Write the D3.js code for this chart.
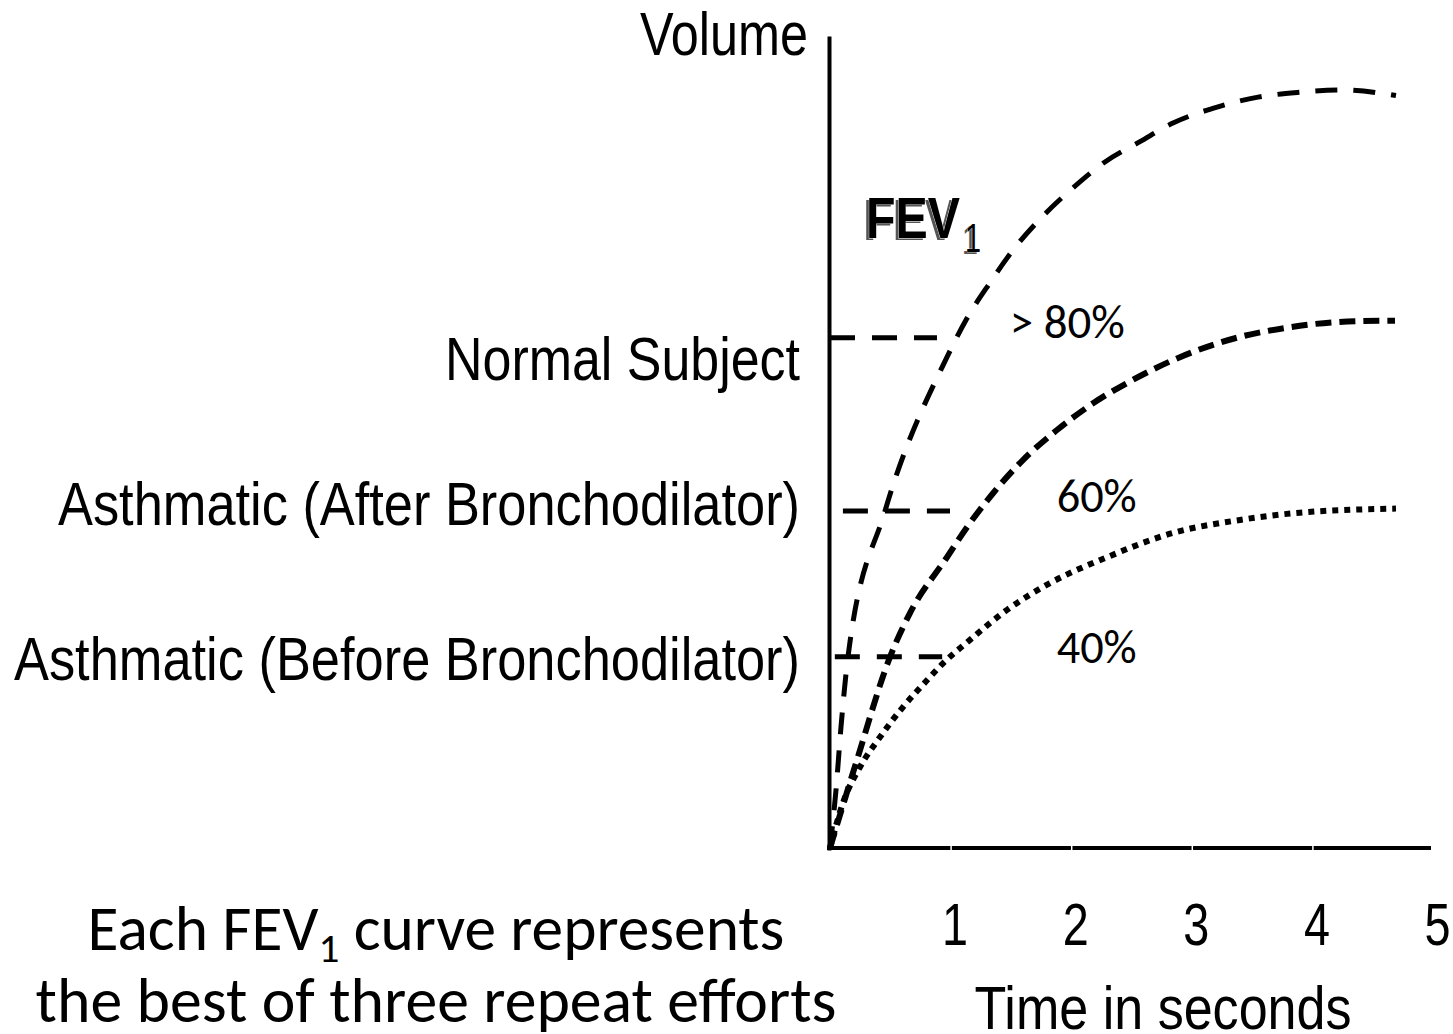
<!DOCTYPE html>
<html>
<head>
<meta charset="utf-8">
<script src="https://cdnjs.cloudflare.com/ajax/libs/d3/7.8.5/d3.min.js"></script>
<style>
body { margin: 0; background: #fff; }
</style>
</head>
<body>
<div id="chart"></div>
<script>
// time (s) and volume (% of axis height)
var normalT = [0, 0.05, 0.091, 0.149, 0.456, 0.970, 1.136, 1.327, 1.517, 1.758, 2.015, 2.280, 2.570, 2.844, 3.217, 3.549, 3.897, 4.245, 4.693];
var normalV = [0, 7.2, 14.9, 23.6, 41.6, 60.6, 65.4, 69.8, 73.8, 77.9, 81.5, 84.7, 87.2, 89.5, 91.5, 92.7, 93.3, 93.6, 92.9];

var afterT = [0, 0.224, 0.498, 0.663, 0.970, 1.136, 1.352, 1.600, 1.882, 2.181, 2.512, 2.902, 3.400, 3.773, 4.171, 4.569, 4.685];
var afterV = [0, 10.9, 23.6, 29.0, 35.9, 39.6, 43.8, 47.9, 51.6, 54.9, 57.8, 60.6, 63.1, 64.2, 64.9, 65.1, 65.1];

var beforeT = [0, 0.108, 0.249, 0.415, 0.605, 0.804, 0.937, 1.161, 1.468, 1.824, 2.297, 2.844, 3.400, 3.897, 4.693];
var beforeV = [0, 5.6, 10.0, 13.7, 17.4, 20.7, 22.8, 25.7, 29.4, 32.7, 35.9, 38.9, 40.5, 41.4, 41.9];

var subjects = ["Normal Subject", "Asthmatic (After Bronchodilator)", "Asthmatic (Before Bronchodilator)"];
var fev1Level = [63.0, 41.6, 23.6];
var fev1From = [0, 0.107, 0.04];
var fev1To = [0.887, 0.995, 0.93];
var percentLabels = ["> 80%", "60%", "40%"];
var percentAt = [1.49, 1.88, 1.88];
var xTicks = [1, 2, 3, 4, 5];

var width = 1453, height = 1034;
var narrow = "'Liberation Sans Narrow','Arial Narrow','Liberation Sans',Arial,sans-serif";
var calibri = "Carlito,Calibri,Lato,'Open Sans',sans-serif";

var svg = d3.select("#chart").append("svg")
	.attr("width", width)
	.attr("height", height);

var x = d3.scaleLinear().domain([0, 5]).range([830, 1433]);
var y = d3.scaleLinear().domain([0, 100]).range([848, 38]);

// squeeze text to a width (keeps the height)
function squeeze(sel, w) {
	sel.attr("textLength", w).attr("lengthAdjust", "spacingAndGlyphs");
}
// scale font size so the text gets a width
function fit(sel, w) {
	var fs = parseFloat(sel.attr("font-size"));
	var cur = sel.node().getComputedTextLength();
	sel.attr("font-size", fs * w / cur);
}

// axes
var yAxis = svg.append("g").attr("transform", "translate(" + (x(0) - 1) + ",0)")
	.call(d3.axisLeft(y).tickValues([]).tickSizeOuter(0));
yAxis.select(".domain").attr("stroke", "#000").attr("stroke-width", 4).attr("stroke-linecap", "square");

var xAxis = svg.append("g").attr("transform", "translate(0," + y(0) + ")")
	.call(d3.axisBottom(x).tickValues(xTicks).tickFormat(d3.format("d")).tickSizeOuter(0).tickSize(3));
xAxis.select(".domain").attr("stroke", "#000").attr("stroke-width", 4).attr("stroke-linecap", "square")
	.attr("d", "M" + (x(0) - 1) + ",0H" + (x(5) - 4));
xAxis.selectAll(".tick line").attr("y1", -3).attr("y2", 3).attr("stroke", "#fff").attr("stroke-width", 1.5);
xAxis.selectAll(".tick text")
	.attr("y", 97).attr("dy", 0).attr("dx", 4)
	.attr("font-family", narrow).attr("font-size", 60).attr("fill", "#000")
	.each(function () { squeeze(d3.select(this), 26); });

// FEV1 reference lines
subjects.forEach(function (s, i) {
	svg.append("line")
		.attr("x1", x(fev1From[i])).attr("x2", x(fev1To[i]))
		.attr("y1", y(fev1Level[i])).attr("y2", y(fev1Level[i]))
		.attr("stroke", "#000").attr("stroke-width", 5)
		.attr("stroke-dasharray", "25,17");
});

// curves
var line = d3.line()
	.x(function (d) { return x(d[0]); })
	.y(function (d) { return y(d[1]); })
	.curve(d3.curveMonotoneX);

svg.append("path").datum(d3.zip(normalT, normalV))
	.attr("d", line).attr("fill", "none").attr("stroke", "#000")
	.attr("stroke-width", 5).attr("stroke-dasharray", "22,16");
svg.append("path").datum(d3.zip(afterT, afterV))
	.attr("d", line).attr("fill", "none").attr("stroke", "#000")
	.attr("stroke-width", 6).attr("stroke-dasharray", "16,8");
svg.append("path").datum(d3.zip(beforeT, beforeV))
	.attr("d", line).attr("fill", "none").attr("stroke", "#000")
	.attr("stroke-width", 6).attr("stroke-dasharray", "6,6");

// subject labels on the left
var labelDy = [42, 14, 23];
var labelW = [355, 742, 786];
subjects.forEach(function (s, i) {
	var t = svg.append("text")
		.attr("x", 800).attr("y", y(fev1Level[i]) + labelDy[i])
		.attr("text-anchor", "end")
		.attr("font-family", narrow).attr("font-size", 62)
		.text(s);
	squeeze(t, labelW[i]);
});

// percent labels
var pctDy = [0, 1, 6];
percentLabels.forEach(function (p, i) {
	var t = svg.append("text")
		.attr("x", x(percentAt[i])).attr("y", y(fev1Level[i]) + pctDy[i])
		.attr("font-family", calibri).attr("font-size", 44)
		.text(p);
	fit(t, i == 0 ? 115 : 80);
});

// axis titles
var vol = svg.append("text").attr("x", 808).attr("y", 55).attr("text-anchor", "end")
	.attr("font-family", narrow).attr("font-size", 62).text("Volume");
squeeze(vol, 168);

var tis = svg.append("text").attr("x", 1163).attr("y", 1029).attr("text-anchor", "middle")
	.attr("font-family", narrow).attr("font-size", 62).text("Time in seconds");
squeeze(tis, 377);

// FEV1 label with its shadow
[["#555", -3, 2], ["#000", 0, 0]].forEach(function (c) {
	var f = svg.append("text").attr("x", 866 + c[1]).attr("y", 238 + c[2])
		.attr("font-family", narrow).attr("font-weight", "bold").attr("font-size", 58)
		.attr("fill", c[0]).attr("stroke", "#fff").attr("stroke-width", 0.8)
		.attr("paint-order", "stroke").text("FEV");
	squeeze(f, 94);
	var s = svg.append("text").attr("x", 965 + c[1]).attr("y", 252 + c[2])
		.attr("font-family", narrow).attr("font-size", 40)
		.attr("fill", c[0]).attr("stroke", "#fff").attr("stroke-width", 0.6)
		.attr("paint-order", "stroke").text("1");
	squeeze(s, 16);
});

// note at bottom left
var n1 = svg.append("text").attr("x", 436).attr("y", 950).attr("text-anchor", "middle")
	.attr("font-family", calibri).attr("font-size", 60);
n1.append("tspan").text("Each FEV");
n1.append("tspan").attr("font-size", "65%").attr("dy", 12).text("1");
n1.append("tspan").attr("dy", -12).text(" curve represents");
fit(n1, 697);

var n2 = svg.append("text").attr("x", 436).attr("y", 1022).attr("text-anchor", "middle")
	.attr("font-family", calibri).attr("font-size", 60)
	.text("the best of three repeat efforts");
fit(n2, 801);
</script>
</body>
</html>
